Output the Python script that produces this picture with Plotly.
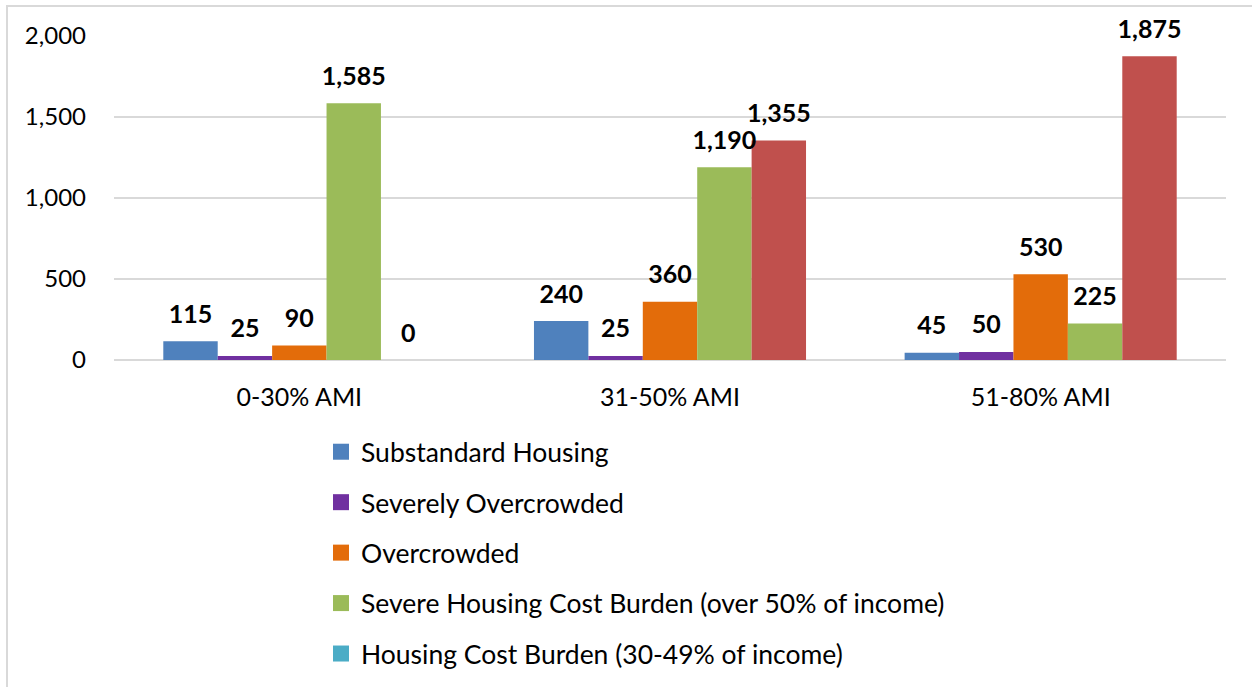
import plotly.graph_objects as go

categories = ["0-30% AMI", "31-50% AMI", "51-80% AMI"]
substandard = [115, 240, 45]
severely_overcrowded = [25, 25, 50]
overcrowded = [90, 360, 530]
severe_cost_burden = [1585, 1190, 225]
cost_burden = [0, 1355, 1875]

series_names = [
    "Substandard Housing",
    "Severely Overcrowded",
    "Overcrowded",
    "Severe Housing Cost Burden (over 50% of income)",
    "Housing Cost Burden (30-49% of income)",
]
series_values = [substandard, severely_overcrowded, overcrowded, severe_cost_burden, cost_burden]
bar_colors = ["#4f81bd", "#7030a0", "#e36c0a", "#9bbb59", "#c0504d"]
legend_colors = ["#4f81bd", "#7030a0", "#e36c0a", "#9bbb59", "#4bacc6"]

FONT = "Lato"
W, H = 1252, 687
L, R, T, B = 114, 26, 36, 327
pw, ph = W - L - R, H - T - B
BARGAP = 0.266
YMAX = 2000

fig = go.Figure()
# bars
for i, (name, vals) in enumerate(zip(series_names, series_values)):
    fig.add_trace(go.Bar(
        x=categories, y=vals, name=name,
        marker=dict(color=bar_colors[i], line=dict(width=0)),
        showlegend=False, hoverinfo="x+y+name",
    ))
# value labels: grouped scatter text on an overlaid twin axis, aligned with the bars
for i, (name, vals) in enumerate(zip(series_names, series_values)):
    fig.add_trace(go.Scatter(
        x=categories, y=vals, mode="markers+text", name=name,
        text=[f"{v:,}" for v in vals], textposition="top center",
        textfont=dict(family=FONT, size=25, color="#000000", weight="bold"),
        marker=dict(size=18, opacity=0, color="white"),
        xaxis="x3", yaxis="y3",
        cliponaxis=False, showlegend=False, hoverinfo="skip",
    ))
# legend entries (the original's legend swatch colours)
for i, name in enumerate(series_names):
    fig.add_trace(go.Scatter(
        x=[None], y=[None], mode="markers", name=name,
        marker=dict(symbol="square", size=16, color=legend_colors[i]),
        xaxis="x2", yaxis="y2", showlegend=True, legendgroup=f"g{i}",
    ))

fig.update_layout(
    width=W, height=H,
    margin=dict(l=L, r=R, t=T, b=B, pad=0, autoexpand=False),
    paper_bgcolor="white", plot_bgcolor="white",
    barmode="group", bargap=BARGAP, bargroupgap=0,
    scattermode="group", scattergap=BARGAP,
    font=dict(family=FONT, size=25, color="#000000"),
    showlegend=True,
    legend=dict(
        x=(321 - L) / pw, xanchor="left",
        yref="container", y=1 - 428 / H, yanchor="top",
        orientation="v", traceorder="grouped", tracegroupgap=13,
        font=dict(family=FONT, size=26.5, color="#000000"),
        itemwidth=30, bgcolor="rgba(0,0,0,0)",
    ),
    xaxis=dict(
        showgrid=False, showline=False, ticks="",
        tickfont=dict(family=FONT, size=25, color="#000000"),
        ticklabelstandoff=20,
    ),
    yaxis=dict(
        range=[0, YMAX], dtick=500, tickformat=",",
        showgrid=True, gridcolor="#d9d9d9", gridwidth=2,
        zeroline=True, zerolinecolor="#d9d9d9", zerolinewidth=2,
        showline=False, ticks="",
        tickfont=dict(family=FONT, size=24, color="#000000"),
        ticklabelstandoff=27,
    ),
    xaxis2=dict(visible=False, overlaying="x", range=[0, 1]),
    yaxis2=dict(visible=False, overlaying="y", range=[0, 1]),
    xaxis3=dict(visible=False, overlaying="x", type="category",
                categoryarray=categories, categoryorder="array", range=[-0.5, 2.5]),
    yaxis3=dict(visible=False, overlaying="y", range=[0, YMAX]),
    shapes=[dict(
        type="rect", xref="paper", yref="paper",
        x0=(7 - L) / pw, x1=(W + 20 - L) / pw,
        y0=-(H + 20 - (T + ph)) / ph, y1=1 + (T - 6) / ph,
        line=dict(color="#d9d9d9", width=2), fillcolor="rgba(0,0,0,0)",
        layer="below",
    )],
)

fig.write_html("out.html", config={"displayModeBar": False},
               post_script="document.body.style.margin='0';")
